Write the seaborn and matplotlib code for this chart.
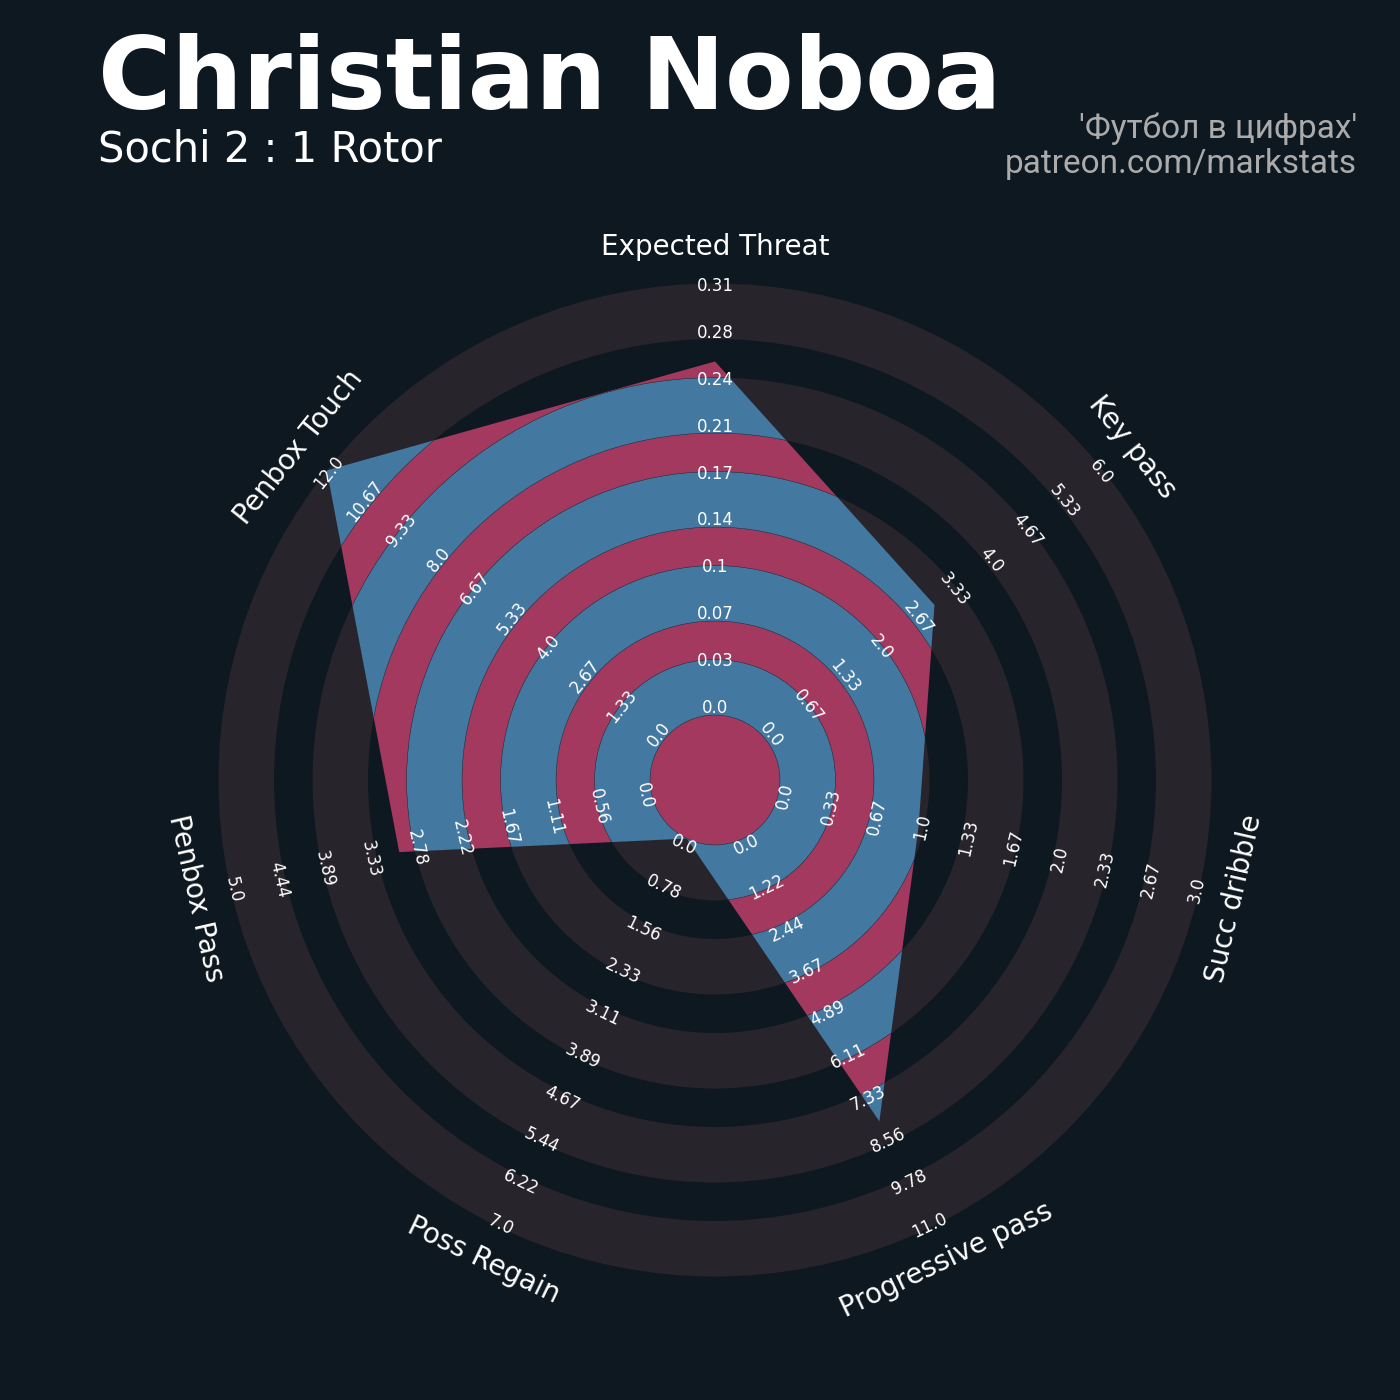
import numpy as np
import matplotlib.pyplot as plt
import seaborn as sns
from matplotlib.patches import Wedge, Circle, Polygon

# radar data
params = ["Expected Threat", "Key pass", "Succ dribble", "Progressive pass",
          "Poss Regain", "Penbox Pass", "Penbox Touch"]
values = [0.254, 3.0, 1.0, 8.0, 0.0, 3.0, 12.0]
low = [0.0, 0.0, 0.0, 0.0, 0.0, 0.0, 0.0]
high = [0.31, 6.0, 3.0, 11.0, 7.0, 5.0, 12.0]

title = "Christian Noboa"
subtitle = "Sochi 2 : 1 Rotor"
credit = ["'Футбол в цифрах'", "patreon.com/markstats"]

# colours
BG = "#0e1820"
RING = "#28242b"
BLUE = "#4378a1"
RED = "#a3395f"
EDGE = "#2e3a4a"

sns.set_theme(style="dark", rc={"figure.facecolor": BG, "axes.facecolor": BG,
                                "savefig.facecolor": BG})
plt.rcParams["font.family"] = ["DejaVu Sans"]

# geometry (one unit = one pixel of the output)
center_r = 65
widths = [55.5, 38.5] * 4 + [55.5]
edges = center_r + np.concatenate([[0], np.cumsum(widths)])
outer_r = edges[-1]
label_r = np.linspace(72, 494, 10)
param_r = 533

fig = plt.figure(figsize=(14, 14), dpi=100)
ax = fig.add_axes([0, 0, 1, 1])
ax.set_xlim(-715, 685)
ax.set_ylim(-620, 780)
ax.set_aspect("equal")
ax.axis("off")

n = len(params)
angles = np.deg2rad(90 - np.arange(n) * 360 / n)

# scale values onto the rings
scaled = [center_r + (v - lo) / (hi - lo) * (outer_r - center_r)
          for v, lo, hi in zip(values, low, high)]
verts = np.column_stack([np.array(scaled) * np.cos(angles),
                         np.array(scaled) * np.sin(angles)])
poly = Polygon(verts, closed=True, facecolor="none", edgecolor="none")
ax.add_patch(poly)

# background rings
for i in range(len(widths)):
    if i % 2 == 0:
        ax.add_patch(Wedge((0, 0), edges[i + 1], 0, 360, width=widths[i],
                           facecolor=RING, edgecolor="none", zorder=1))

# coloured rings clipped to the radar shape
c = Circle((0, 0), center_r, facecolor=RED, edgecolor=EDGE, lw=0.35, zorder=2)
ax.add_patch(c)
c.set_clip_path(poly)
for i in range(len(widths)):
    col = BLUE if i % 2 == 0 else RED
    w = Wedge((0, 0), edges[i + 1], 0, 360, width=widths[i],
              facecolor=col, edgecolor=EDGE, lw=0.35, zorder=2)
    ax.add_patch(w)
    w.set_clip_path(poly)


def text_rot(theta_deg):
    rot = theta_deg - 90
    rot = (rot + 180) % 360 - 180
    if rot > 90:
        rot -= 180
    elif rot < -90:
        rot += 180
    return rot


# range labels and parameter names
for k in range(n):
    th = angles[k]
    rot = text_rot(np.rad2deg(th))
    ticks = np.linspace(low[k], high[k], 10)
    for r, t in zip(label_r, ticks):
        ax.text(r * np.cos(th), r * np.sin(th), str(round(t, 2)),
                ha="center", va="center", rotation=rot, rotation_mode="anchor",
                color="white", fontsize=12, zorder=5)
    ax.text(param_r * np.cos(th), param_r * np.sin(th), params[k],
            ha="center", va="center", rotation=rot, rotation_mode="anchor",
            color="white", fontsize=20, zorder=5)

# titles
fig.text(98 / 1400, 1 - 108 / 1400, title, fontsize=72, fontweight="bold",
         color="white", ha="left", va="baseline")
fig.text(98 / 1400, 1 - 162 / 1400, subtitle, fontsize=30,
         color="white", ha="left", va="baseline")
fig.text(1357 / 1400, 1 - 138 / 1400, credit[0], fontsize=24, family=["Roboto", "DejaVu Sans"],
         color="#ababab", ha="right", va="baseline")
fig.text(1357 / 1400, 1 - 173 / 1400, credit[1], fontsize=24, family=["Roboto", "DejaVu Sans"],
         color="#ababab", ha="right", va="baseline")

fig.savefig("out.png", dpi=100, facecolor=BG)
